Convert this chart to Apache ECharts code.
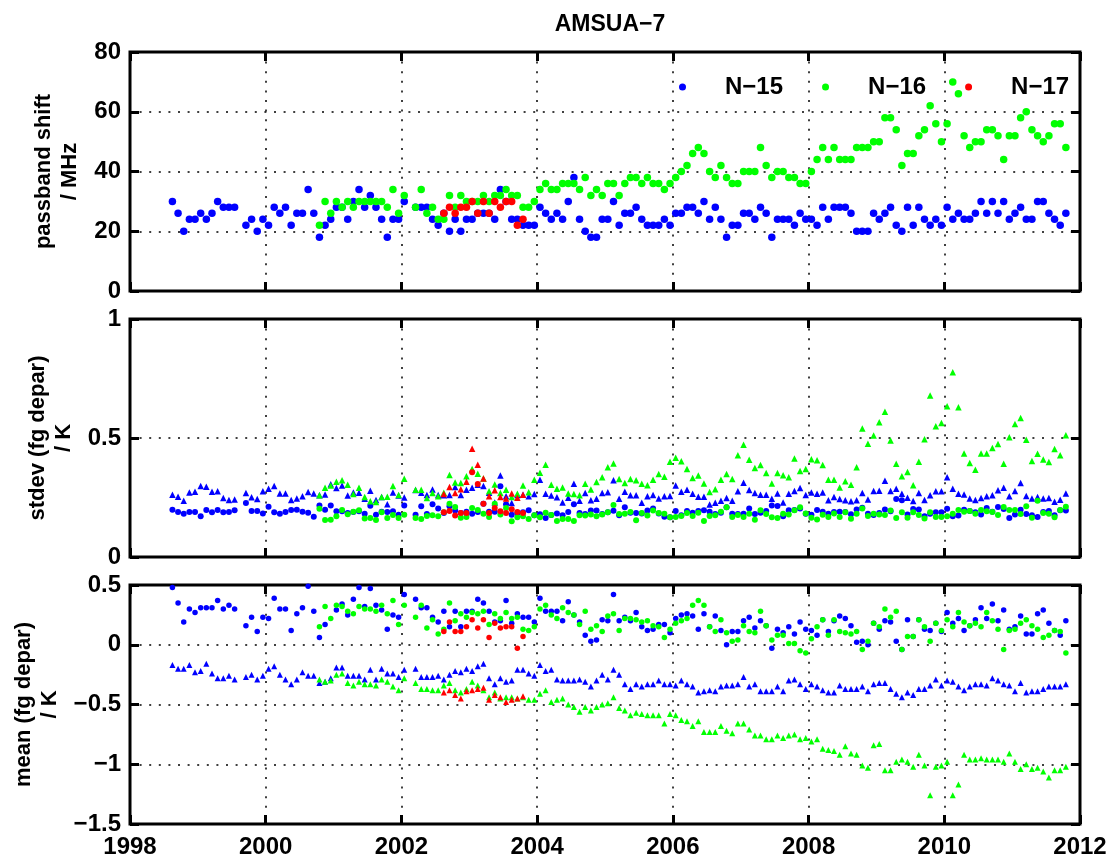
<!DOCTYPE html>
<html>
<head>
<meta charset="utf-8">
<title>AMSUA-7</title>
<script src="https://cdn.jsdelivr.net/npm/echarts@6/dist/echarts.min.js"></script>
<style>
  html, body { margin: 0; padding: 0; background: #fff; }
  #chart { width: 1115px; height: 863px; }
</style>
</head>
<body>
<div id="chart"></div>
<script>
// monthly values, first entry = start month of each satellite, null = no data
var satellites = ['N−15', 'N−16', 'N−17'];
var satColors = ['#0000ff', '#00ff00', '#ff0000'];
var startMonths = ['1998-08', '2000-10', '2002-08'];

var yearTicks = [1998, 2000, 2002, 2004, 2006, 2008, 2010, 2012];
var shiftTicks = [0, 20, 40, 60, 80];
var stdevTicks = [0, 0.5, 1];
var meanTicks = [-1.5, -1, -0.5, 0, 0.5];

// passband shift / MHz
var n15Shift = [
  30,26,20,24,24,26,24,26,30,28,28,28,
  null,22,24,20,24,22,28,26,28,22,26,26,
  34,26,18,22,24,28,28,24,30,34,28,32,
  28,24,18,24,24,30,null,28,28,28,24,22,
  26,20,24,20,24,24,26,26,26,24,34,30,
  24,24,22,22,22,28,26,24,26,24,30,38,
  24,20,18,18,24,24,30,22,26,26,28,24,
  22,22,22,24,22,26,26,28,28,26,30,24,
  28,24,18,22,22,26,26,24,28,26,18,24,
  24,24,22,26,24,24,22,28,24,28,28,28,
  26,20,20,20,26,24,26,28,22,20,28,22,
  28,24,22,24,22,28,24,26,24,24,26,30,
  26,30,26,30,24,26,28,24,24,30,30,26,
  24,22,26
];
var n16Shift = [
  22,30,26,30,28,30,28,30,30,30,
  30,30,28,34,26,32,null,28,34,26,28,24,
  24,32,28,32,30,30,30,32,30,32,32,34,
  32,32,28,28,30,34,36,34,34,36,36,36,
  34,38,32,34,32,36,36,32,36,38,38,36,
  38,36,36,34,36,38,40,42,46,48,46,40,
  38,42,38,36,36,40,40,40,48,42,38,40,
  40,38,38,36,36,40,44,48,44,48,44,44,
  44,48,48,48,50,50,58,58,54,42,46,46,
  52,54,62,56,50,56,70,66,52,48,50,50,
  54,54,52,44,52,52,58,60,54,52,50,52,
  56,56,48
];
var n17Shift = [26,28,26,28,28,30,26,30,26,30,28,30,30,22,24];

// stdev (fg depar) / K : dots and triangles
var n15StdevDot = [
  .199,.189,.182,.189,.189,.171,.197,.188,.197,.188,.189,.196,
  null,.227,.193,.193,.183,.211,.188,.182,.189,.197,.199,.190,
  .186,.169,.216,.199,.216,.192,.192,.185,.189,.192,.182,.215,
  .178,.190,.189,.192,.178,.216,null,.178,.213,.181,.222,.204,
  .185,.213,.195,.185,.190,.182,.189,.224,.190,.190,.297,.222,
  .178,.185,.188,.196,.175,.180,.164,.176,.183,.175,.189,.222,
  .185,.181,.195,.195,.181,.188,.194,.175,.209,.186,.185,.183,
  .195,.204,.183,.169,.167,.193,.175,.193,.186,.193,.196,.190,
  .181,.186,.209,.182,.181,.182,.204,.181,.186,.193,.216,.214,
  .171,.196,.197,.204,.182,.178,.197,.190,.182,.189,.190,.189,
  .180,.200,.207,.182,.176,.185,.200,.192,.244,.238,.179,.202,
  .200,.171,.182,.188,.188,.203,.171,.174,.199,.193,.188,.179,
  .206,.190,.210,.202,.164,.179,.199,.181,.175,.168,.189,.193,
  .175,.196,.195
];
var n15StdevTri = [
  .262,.253,.236,.271,.274,.298,.295,.274,.276,.248,.239,.242,
  null,.269,.251,.244,.276,.287,.298,.267,.267,.239,.246,.255,
  .273,.267,.259,.263,.306,.290,.300,.258,.271,.270,.245,.278,
  .240,.252,.222,.271,.258,.250,null,.282,.270,.260,.284,.260,
  .259,.260,.294,.260,.283,.291,.304,.298,.270,.229,.342,.255,
  .227,.260,.262,.255,.265,.325,.266,.258,.251,.229,.249,.308,
  .236,.269,.238,.245,.269,.272,.322,.245,.274,.259,.259,.228,
  .255,.260,.246,.255,.256,.300,.274,.283,.266,.253,.253,.221,
  .228,.236,.248,.236,.276,.312,.281,.269,.262,.262,.245,.267,
  .229,.266,.277,.290,.260,.271,.266,.271,.238,.252,.244,.238,
  .234,.238,.269,.242,.277,.278,.320,.277,.287,.266,.249,.235,
  .269,.239,.259,.276,.276,.335,.287,.266,.263,.246,.239,.248,
  .255,.259,.280,.291,.255,.277,.311,.256,.246,.252,.246,.248,
  .232,.241,.267
];
var n16StdevDot = [
  .203,.155,.157,.171,.197,.180,.190,.196,.162,.164,
  .155,.188,.164,.176,.164,.178,null,.164,.160,.172,.175,.171,
  .188,.224,.210,.165,.168,.206,.197,.182,.168,.224,.179,.206,
  .150,.167,.171,.160,.175,.167,.186,.176,.151,.160,.160,.151,
  .175,.174,.179,.171,.179,.188,.218,.181,.182,.189,.154,.185,
  .174,.195,.185,.182,.167,.168,.172,.185,.172,.186,.151,.172,
  .175,.190,.209,.168,.176,.168,.182,.157,.196,.181,.167,.164,
  .182,.179,.196,.209,.183,.165,.158,.178,.168,.183,.168,.188,
  .161,.182,.204,.172,.182,.179,.176,.195,.164,.188,.165,.188,
  .176,.162,.188,.168,.168,.171,.182,.197,.190,.193,.182,.197,
  .192,.189,.176,.210,.197,.197,.181,.213,.165,.236,.185,.182,
  .167,.197,.211
];
var n16StdevTri = [
  .259,.291,.300,.316,.323,.304,.265,.291,.252,.234,
  .231,.252,.253,.298,.260,.329,null,.283,.283,.248,.269,.255,
  .270,.345,.313,.311,.339,.370,.350,.330,.276,.305,.269,.283,
  .252,.266,.300,.272,.325,.354,.388,.304,.287,.292,.267,.265,
  .259,.308,.284,.315,.335,.377,.393,.328,.311,.328,.322,.308,
  .301,.325,.349,.337,.400,.417,.402,.370,.332,.342,.309,.273,
  .285,.325,.349,.328,.428,.472,.409,.374,.387,.353,.309,.353,
  .344,.335,.414,.361,.370,.411,.406,.387,.325,.325,.292,.318,
  .304,.377,.540,.476,.510,.566,.610,.490,.392,.339,.357,.301,
  .400,.495,.679,.549,.563,.633,.776,.629,.435,.395,.367,.435,
  .435,.458,.475,.392,.503,.559,.584,.493,.403,.434,.410,.399,
  .454,.428,.512
];
var n17StdevDot = [.188,.193,.174,.185,.185,.356,.307,.224,.185,.206,.192,.185,.201,.189,.185];
var n17StdevTri = [.265,.294,.269,.285,.316,.455,.388,.330,.255,.280,.252,.246,.267,.249,.262];

// mean (fg depar) / K : dots and triangles
var n15MeanDot = [
  .48,.35,.19,.30,.27,.31,.31,.31,.37,.30,.33,.30,
  null,.16,.23,.11,.23,.22,.39,.30,.30,.12,.26,.31,
  .49,.28,.06,.17,null,.29,.34,.25,.38,.48,.32,.47,
  .33,.29,.13,.25,.23,.42,null,.38,.31,.31,.23,.19,
  .28,.15,.28,.15,.28,.28,.38,.35,.28,.19,.20,.37,
  .18,.26,.23,.23,.19,.39,.28,.28,.28,.20,.36,.25,
  .19,.08,.03,.04,.21,.20,.42,.20,.23,.20,.27,.15,
  .12,.13,.17,.17,.10,.22,.25,.26,.24,.13,.26,.15,
  .24,.12,.00,.11,.11,.20,.23,.14,.20,.16,-.03,.13,
  .10,.15,.09,.19,.13,.12,.08,.21,.11,.20,.24,.22,
  .16,.02,.03,.00,.18,.13,.20,.19,.03,-.04,.21,.07,
  .21,.13,.12,.18,.11,.27,.18,.22,.12,.16,.21,.31,
  .22,.34,.20,.29,.13,.15,.24,.09,.09,.26,.29,.18,
  .12,.08,.20
];
var n15MeanTri = [
  -.17,-.20,-.20,-.17,-.23,-.22,-.16,-.24,-.28,-.28,-.26,-.29,
  null,-.27,-.25,-.29,-.26,-.20,-.18,-.25,-.29,-.33,-.29,-.23,
  -.26,-.26,-.32,-.31,-.28,-.19,-.19,-.26,-.26,-.26,-.29,-.21,
  -.29,-.20,-.24,-.24,-.27,-.21,null,-.20,-.27,-.27,-.27,-.26,
  -.29,-.25,-.22,-.23,-.20,-.22,-.18,-.16,-.28,-.33,-.28,-.31,
  -.30,-.21,-.21,-.24,-.26,-.17,-.22,-.21,-.29,-.30,-.30,-.30,
  -.29,-.31,-.35,-.30,-.25,-.29,-.21,-.25,-.33,-.37,-.33,-.35,
  -.33,-.33,-.30,-.33,-.33,-.34,-.30,-.33,-.35,-.40,-.39,-.38,
  -.39,-.35,-.34,-.34,-.33,-.27,-.35,-.33,-.39,-.39,-.39,-.35,
  -.39,-.30,-.29,-.33,-.37,-.33,-.35,-.38,-.40,-.40,-.34,-.37,
  -.37,-.37,-.35,-.39,-.33,-.32,-.32,-.37,-.41,-.44,-.40,-.42,
  -.37,-.37,-.34,-.29,-.34,-.30,-.31,-.35,-.38,-.35,-.33,-.33,
  -.34,-.28,-.30,-.33,-.34,-.39,-.32,-.40,-.39,-.39,-.37,-.35,
  -.35,-.35,-.33
];
var n16MeanDot = [
  .15,.32,.22,.33,.32,.28,.26,.32,.30,.30,
  .28,.33,.26,.37,.17,.33,null,.23,.33,.14,.21,.09,
  .13,.35,.20,.26,.23,.27,.26,.28,.17,.26,.22,.27,
  .22,.23,.13,.12,.15,.30,.33,.25,.22,.31,.27,.25,
  .17,.28,.13,.16,.11,.24,.26,.12,.22,.22,.21,.19,
  .20,.16,.15,.06,.13,.18,.20,.22,.33,.37,.33,.15,
  .11,.21,.10,.03,.04,.16,.11,.10,.28,.16,.04,.08,
  .08,.01,.01,-.05,-.07,.05,.15,.21,.08,.21,.11,.10,
  .09,.11,-.04,.03,.18,.15,.30,.23,.28,-.04,.07,.07,
  .21,.15,.03,.18,.12,.21,.15,.27,.19,.16,.18,.15,
  .27,.20,.13,-.04,.12,.13,.18,.21,.16,.13,.06,.08,
  .12,.11,-.07
];
var n16MeanTri = [
  -.29,-.31,-.30,-.25,-.24,-.32,-.34,-.31,-.33,-.33,
  -.34,-.29,-.31,-.35,-.38,-.28,null,-.32,-.37,-.37,-.38,-.38,
  -.34,-.32,-.38,-.40,-.37,-.31,-.34,-.38,-.44,-.40,-.45,-.44,
  -.44,-.45,-.44,-.46,-.46,-.41,-.38,-.48,-.46,-.45,-.50,-.52,
  -.56,-.52,-.55,-.52,-.50,-.49,-.44,-.53,-.55,-.59,-.57,-.58,
  -.59,-.59,-.59,-.66,-.58,-.59,-.63,-.64,-.68,-.64,-.73,-.73,
  -.73,-.68,-.72,-.74,-.66,-.66,-.71,-.76,-.76,-.79,-.79,-.76,
  -.78,-.76,-.75,-.79,-.78,-.81,-.79,-.87,-.88,-.89,-.92,-.85,
  -.91,-.92,-1.01,-1.03,-.84,-.83,-1.05,-1.05,-.98,-.96,-.98,-1.02,
  -.92,-1.01,-1.26,-1.02,-1.01,-.98,-1.26,-1.17,-.92,-.96,-.96,-.95,
  -.96,-.96,-.96,-.98,-.91,-.98,-1.04,-1.00,-1.04,-1.03,-1.06,-1.11,
  -1.05,-1.05,-1.02
];
var n17MeanDot = [.11,.19,.11,.11,.15,.21,.14,.21,.06,.18,.14,.15,.15,-.03,.07];
var n17MeanTri = [-.40,-.38,-.42,-.45,-.39,-.38,-.37,-.36,-.46,-.42,-.44,-.48,-.46,-.45,-.43];

var FONT = '"Liberation Sans", Arial, Helvetica, sans-serif';

// month string + monthly values -> [decimal year (mid month), value]
function monthly(start, values) {
  var p = start.split('-');
  var y0 = +p[0] + (+p[1] - 1) / 12;
  var out = [];
  values.forEach(function (v, i) {
    if (v !== null) out.push([y0 + (i + 0.5) / 12, v]);
  });
  return out;
}

var grids = [
  { left: 130, top: 52, width: 950, height: 239 },
  { left: 130, top: 319, width: 950, height: 238 },
  { left: 130, top: 585, width: 950, height: 239 }
];
grids.forEach(function (g) {
  g.show = true;
  g.borderColor = '#000';
  g.borderWidth = 3;
  g.backgroundColor = 'transparent';
});

var yTicks = [shiftTicks, stdevTicks, meanTicks];
var yNames = ['passband shift\n/ MHz', 'stdev (fg depar)\n/ K', 'mean (fg depar)\n/ K'];

var dotted = { color: '#000', width: 1.5, type: [2, 7.6] };
var tick = { show: true, inside: true, length: 9, lineStyle: { color: '#000', width: 3 } };
var noLine = { show: false, onZero: false };
var labelFont = { color: '#000', fontSize: 24, fontWeight: 'bold', fontFamily: FONT };

function minus(v) { return String(v).replace('-', '−'); }

var xAxes = [], yAxes = [];
[0, 1, 2].forEach(function (i) {
  xAxes.push({
    type: 'value', gridIndex: i, position: 'bottom',
    min: yearTicks[0], max: yearTicks[yearTicks.length - 1], interval: yearTicks[1] - yearTicks[0],
    axisLine: noLine, axisTick: tick,
    axisLabel: Object.assign({ show: i === 2, margin: 11, formatter: function (v) { return String(v); } }, labelFont),
    splitLine: { show: true, lineStyle: dotted }
  });
  var t = yTicks[i];
  yAxes.push({
    type: 'value', gridIndex: i, position: 'left',
    min: t[0], max: t[t.length - 1], interval: t[1] - t[0],
    name: yNames[i], nameLocation: 'middle', nameGap: 47, nameRotate: 90,
    nameTextStyle: { color: '#000', fontSize: 22, fontWeight: 'bold', fontFamily: FONT, lineHeight: 26 },
    axisLine: noLine, axisTick: tick,
    axisLabel: Object.assign({ margin: 9, formatter: minus }, labelFont),
    splitLine: { show: true, lineStyle: dotted }
  });
});
// ticks on the top and right edges
[0, 1, 2].forEach(function (i) {
  xAxes.push({
    type: 'value', gridIndex: i, position: 'top',
    min: yearTicks[0], max: yearTicks[yearTicks.length - 1], interval: yearTicks[1] - yearTicks[0],
    axisLine: noLine, axisTick: tick, axisLabel: { show: false }, splitLine: { show: false }
  });
  var t = yTicks[i];
  yAxes.push({
    type: 'value', gridIndex: i, position: 'right',
    min: t[0], max: t[t.length - 1], interval: t[1] - t[0],
    axisLine: noLine, axisTick: tick, axisLabel: { show: false }, splitLine: { show: false }
  });
});

var panels = [
  { grid: 0, size: 7.5, sets: [[n15Shift, null], [n16Shift, null], [n17Shift, null]] },
  { grid: 1, size: 6, sets: [[n15StdevDot, n15StdevTri], [n16StdevDot, n16StdevTri], [n17StdevDot, n17StdevTri]] },
  { grid: 2, size: 5.5, sets: [[n15MeanDot, n15MeanTri], [n16MeanDot, n16MeanTri], [n17MeanDot, n17MeanTri]] }
];

var series = [];
panels.forEach(function (p) {
  p.sets.forEach(function (s, k) {
    series.push({
      name: satellites[k], type: 'scatter', xAxisIndex: p.grid, yAxisIndex: p.grid,
      symbol: 'circle', symbolSize: p.size, itemStyle: { color: satColors[k], opacity: 1 },
      data: monthly(startMonths[k], s[0])
    });
    if (s[1]) {
      series.push({
        name: satellites[k], type: 'scatter', xAxisIndex: p.grid, yAxisIndex: p.grid,
        symbol: 'triangle', symbolSize: p.size + 0.5, itemStyle: { color: satColors[k], opacity: 1 },
        data: monthly(startMonths[k], s[1])
      });
    }
  });
});

var chart = echarts.init(document.getElementById('chart'));
chart.setOption({
  animation: false,
  backgroundColor: '#fff',
  title: {
    text: 'AMSUA−7', left: 605, top: 8, textAlign: 'center',
    textStyle: { color: '#000', fontSize: 23, fontWeight: 'bold', fontFamily: FONT }
  },
  legend: {
    data: satellites, left: 674, top: 70, icon: 'circle',
    itemWidth: 7, itemHeight: 7, itemGap: 39, selectedMode: false,
    textStyle: { color: '#000', fontSize: 24, fontWeight: 'bold', fontFamily: FONT, padding: [0, 0, 0, 34] }
  },
  grid: grids,
  xAxis: xAxes,
  yAxis: yAxes,
  series: series
});
</script>
</body>
</html>
